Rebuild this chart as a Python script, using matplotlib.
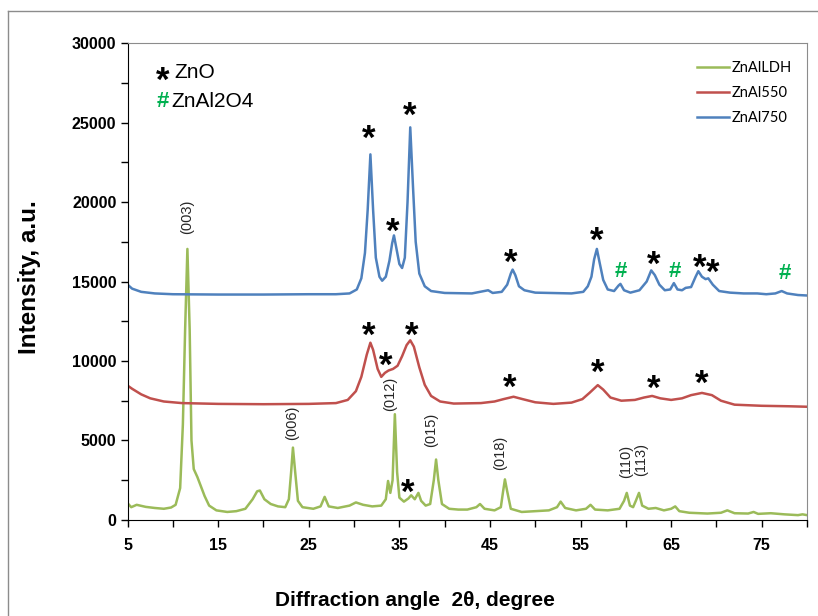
import matplotlib
matplotlib.use("Agg")
import matplotlib.pyplot as plt
from matplotlib.lines import Line2D
from matplotlib.ticker import MultipleLocator, FixedLocator

# ---- data (2theta, intensity) ----
theta_750 = [5.0, 5.5, 6.5, 8, 10, 15, 20, 25, 28, 29.5, 30.3, 30.8, 31.2, 31.5, 31.8, 32.1,
             32.4, 32.8, 33.1, 33.5, 33.9, 34.2, 34.4, 34.7, 35.0, 35.3, 35.6, 35.9, 36.2,
             36.5, 36.8, 37.2, 37.8, 38.5, 40, 43, 44.8, 45.3, 46.3, 46.9, 47.3, 47.5, 47.8,
             48.2, 48.8, 50, 54, 55.3, 55.8, 56.2, 56.5, 56.8, 57.1, 57.5, 58.0, 58.7, 59.2,
             59.4, 59.8, 60.5, 61.5, 62.3, 62.8, 63.2, 63.7, 64.3, 64.9, 65.3, 65.7, 66.2,
             66.6, 67.2, 67.7, 68.0, 68.4, 68.8, 69.1, 69.6, 70.3, 71.5, 73, 74.5, 75.5,
             76.5, 77.2, 77.8, 79, 80]
int_750 = [14800, 14550, 14350, 14250, 14200, 14180, 14180, 14200, 14200, 14250, 14500, 15200,
           16800, 19500, 23000, 19500, 16500, 15300, 15050, 15300, 16300, 17400, 17900, 17000,
           16100, 15850, 16500, 20000, 24700, 21000, 17500, 15500, 14700, 14400, 14280, 14250,
           14450, 14280, 14350, 14800, 15500, 15750, 15400, 14700, 14450, 14300, 14250, 14350,
           14700, 15300, 16400, 17050, 16200, 15100, 14500, 14400, 14750, 14850, 14450, 14300,
           14450, 15000, 15700, 15400, 14800, 14450, 14500, 14900, 14500, 14450, 14600, 14650,
           15300, 15650, 15300, 15150, 15200, 14800, 14400, 14300, 14250, 14250, 14200, 14250,
           14400, 14250, 14150, 14120]

theta_550 = [5.0, 5.5, 6.5, 7.5, 9, 11, 15, 20, 25, 28, 29.3, 30.2, 30.8, 31.4, 31.8, 32.1,
             32.6, 33.0, 33.4, 33.8, 34.3, 34.8, 35.3, 35.8, 36.2, 36.6, 37.2, 37.8, 38.5,
             39.5, 41, 44, 45.5, 46.5, 47.6, 48.6, 50, 52, 54, 55.2, 56.0, 56.9, 57.5, 58.3,
             59.5, 61, 62.0, 62.9, 63.8, 65, 66.2, 67.2, 68.4, 69.5, 70.5, 72, 75, 78, 80]
int_550 = [8450, 8250, 7900, 7650, 7450, 7350, 7300, 7280, 7300, 7350, 7550, 8100, 9000, 10400,
           11150, 10700, 9500, 9000, 9250, 9400, 9500, 9700, 10300, 11000, 11300, 10900, 9600,
           8500, 7800, 7450, 7320, 7350, 7450, 7600, 7750, 7600, 7400, 7300, 7380, 7600, 8000,
           8480, 8200, 7700, 7500, 7550, 7700, 7800, 7650, 7550, 7650, 7850, 7990, 7850, 7500,
           7250, 7180, 7150, 7120]

theta_ldh = [5.0, 5.4, 6, 7, 8, 9, 9.8, 10.3, 10.8, 11.1, 11.35, 11.6, 11.85, 12.05, 12.3, 12.7,
             13.1, 13.5, 14.0, 14.8, 16, 17, 18, 18.8, 19.3, 19.6, 20.1, 20.8, 21.6, 22.4, 22.8,
             23.05, 23.25, 23.5, 23.8, 24.3, 25.5, 26.3, 26.75, 27.2, 28.2, 29.5, 30.2, 31, 32,
             33, 33.5, 33.75, 34.0, 34.25, 34.5, 34.75, 35.0, 35.5, 36.0, 36.3, 36.7, 37.1,
             37.4, 37.9, 38.4, 38.8, 39.05, 39.3, 39.7, 40.5, 41.5, 42.5, 43.5, 43.9, 44.4,
             45.5, 46.2, 46.45, 46.65, 46.9, 47.3, 48.5, 50, 51.5, 52.4, 52.8, 53.3, 54.5, 55.6,
             56.1, 56.6, 58, 59.3, 59.8, 60.1, 60.45, 60.8, 61.1, 61.45, 61.8, 62.5, 63.3, 64.2,
             65.0, 65.45, 65.9, 67, 69, 70.5, 71.2, 72, 73.5, 74.1, 74.6, 76, 77.5, 79, 79.5, 80]
int_ldh = [1050, 800, 950, 820, 750, 700, 780, 950, 2000, 6000, 12000, 17050, 12000, 5000, 3200,
           2700, 2100, 1500, 900, 600, 500, 550, 700, 1300, 1800, 1850, 1300, 1000, 850, 800, 1300,
           3000, 4550, 3000, 1200, 800, 700, 850, 1450, 850, 750, 900, 1100, 950, 850, 900, 1300,
           2450, 1700, 2500, 6650, 3000, 1400, 1150, 1350, 1550, 1300, 1700, 1200, 900, 1000,
           2500, 3800, 2500, 1000, 700, 650, 650, 800, 1000, 700, 600, 800, 1800, 2550, 1800, 700,
           500, 550, 600, 800, 1150, 750, 600, 700, 950, 650, 600, 700, 1200, 1700, 900, 800, 1200,
           1700, 900, 700, 750, 600, 700, 850, 550, 450, 400, 450, 600, 420, 400, 500, 380, 420,
           350, 300, 350, 300]

series_names = ["ZnAlLDH", "ZnAl550", "ZnAl750"]
series_colors = ["#9BBB59", "#C0504D", "#4F81BD"]

# phase markers: (2theta, intensity) of the symbols
zno_x = [31.6, 36.1, 34.3, 47.3, 56.8, 63.1, 68.1, 69.6,
         31.6, 33.5, 36.4, 47.2, 56.9, 63.1, 68.4, 35.9]
zno_y = [24400, 25900, 18600, 16600, 18000, 16500, 16300, 16000,
         12000, 10150, 12050, 8750, 9700, 8700, 9000, 2180]
spinel_x = [59.45, 65.45, 77.6]
spinel_y = [15600, 15600, 15500]

# hkl reflections of the LDH
hkl_labels = ["(003)", "(006)", "(012)", "(015)", "(018)", "(110)", "(113)"]
hkl_x = [11.6, 23.2, 34.0, 38.55, 46.1, 60.0, 61.7]
hkl_y = [19100, 6100, 7900, 5660, 4210, 3710, 3770]

# ---- figure ----
fig = plt.figure(figsize=(8.18, 6.16), dpi=100)
ax = fig.add_axes([0.156, 0.156, 0.8306, 0.774])

for tx, iy, name, col in zip([theta_ldh, theta_550, theta_750],
                             [int_ldh, int_550, int_750], series_names, series_colors):
    ax.plot(tx, iy, color=col, lw=1.8, label=name)

star_kw = dict(ha="center", va="center", fontsize=25, fontweight="bold",
               family="Liberation Sans", color="black", textcoords="offset points")
for x, y in zip(zno_x, zno_y):
    ax.annotate("*", (x, y), xytext=(0, -5.5), **star_kw)
for x, y in zip(spinel_x, spinel_y):
    ax.text(x, y, "#", ha="center", va="center", fontsize=16, fontweight="bold",
            family="Liberation Sans", color="#00B050")
for lab, x, y in zip(hkl_labels, hkl_x, hkl_y):
    ax.text(x, y, lab, ha="center", va="center", rotation=90, fontsize=10.5,
            family="Liberation Sans", color="#262626")

# phase key in upper left
ax.annotate("*", (8.9, 28050), xytext=(0, -5.5), **star_kw)
ax.text(10.2, 28150, "ZnO", ha="left", va="center", fontsize=15, family="Liberation Sans")
ax.text(8.9, 26350, "#", ha="center", va="center", fontsize=16, fontweight="bold",
        family="Liberation Sans", color="#00B050")
ax.text(9.8, 26350, "ZnAl2O4", ha="left", va="center", fontsize=15, family="Liberation Sans")

ax.set_xlim(5, 80)
ax.set_ylim(0, 30000)
ax.xaxis.set_major_locator(FixedLocator([5, 15, 25, 35, 45, 55, 65, 75]))
ax.xaxis.set_minor_locator(FixedLocator([10, 20, 30, 40, 50, 60, 70, 80]))
ax.yaxis.set_major_locator(MultipleLocator(5000))
ax.yaxis.set_minor_locator(MultipleLocator(2500))
ax.tick_params(which="both", direction="out", length=5, width=1, color="black")
ax.tick_params(axis="both", labelsize=11.5, pad=3)
for lab in ax.get_xticklabels() + ax.get_yticklabels():
    lab.set_family("Liberation Sans")
    lab.set_fontweight("bold")
ax.tick_params(axis="x", pad=8)

ax.spines["left"].set_color("black")
ax.spines["bottom"].set_color("black")
ax.spines["top"].set_color("#8C8C8C")
ax.spines["right"].set_color("#8C8C8C")

ax.set_ylabel("Intensity, a.u.", fontsize=17.5, fontweight="bold", family="Liberation Sans")
ax.yaxis.set_label_coords(-0.128, 0.51)
fig.text(0.507, 1 - 600 / 616, "Diffraction angle  2θ, degree", ha="center", va="center",
         fontsize=15, fontweight="bold", family="Liberation Sans")

ax.legend(loc="upper left", bbox_to_anchor=(697 / 818, 1 - 61 / 616),
          bbox_transform=fig.transFigure, frameon=False,
          handlelength=2.2, handletextpad=0.15, labelspacing=0.75,
          borderpad=0, borderaxespad=0, prop={"family": "Lato", "size": 10.5})

# outer frame of the original picture
fig.add_artist(Line2D([8 / 818, 8 / 818], [0, 1 - 11 / 616], transform=fig.transFigure,
                      color="#8C8C8C", lw=1))
fig.add_artist(Line2D([8 / 818, 1], [1 - 11 / 616, 1 - 11 / 616], transform=fig.transFigure,
                      color="#8C8C8C", lw=1))

fig.savefig("out.png", dpi=100)
